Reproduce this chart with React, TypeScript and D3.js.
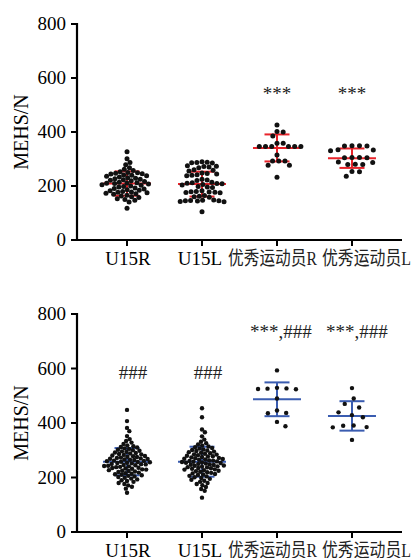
import * as d3 from "d3";

// categories and tick labels
const CATEGORIES = ["U15R", "U15L", "优秀运动员R", "优秀运动员L"];
const Y_TICKS = [0, 200, 400, 600, 800];

// panel 1 (red) – individual values
const topU15R = [327, 301, 287, 279, 268, 262, 257, 253, 250, 249, 247, 245, 244, 241, 240, 238, 236, 233, 231, 229, 227, 225, 223, 221, 219, 217, 214, 212, 211, 210, 209, 207, 205, 203, 200, 198, 196, 193, 191, 189, 186, 184, 182, 180, 178, 177, 175, 173, 171, 169, 166, 163, 160, 157, 153, 150, 147, 141, 118];
const topU15L = [290, 288, 287, 286, 285, 275, 273, 272, 270, 268, 260, 258, 256, 248, 246, 244, 242, 240, 238, 225, 222, 220, 214, 212, 210, 209, 208, 206, 204, 198, 196, 194, 182, 180, 179, 178, 177, 176, 175, 165, 162, 160, 158, 148, 147, 146, 145, 145, 144, 143, 142, 105];
const topEliteR = [426, 402, 400, 385, 358, 358, 346, 346, 346, 346, 346, 346, 315, 293, 293, 293, 277, 277, 232];
const topEliteL = [349, 349, 348, 348, 334, 333, 331, 306, 306, 305, 305, 289, 287, 281, 280, 280, 254, 253, 236];
const topMeans = [209, 207, 341, 303];
const topSD = [45, 46, 50, 36];
const topMarks = ["", "", "***", "***"];

// panel 2 (blue)
const botU15R = [448, 407, 382, 370, 352, 341, 334, 328, 323, 318, 315, 312, 310, 307, 305, 302, 300, 298, 296, 294, 292, 290, 288, 286, 285, 283, 281, 279, 278, 276, 275, 273, 272, 270, 269, 268, 266, 265, 264, 262, 261, 260, 258, 257, 256, 254, 253, 252, 250, 249, 248, 246, 245, 243, 242, 241, 239, 238, 236, 235, 233, 232, 230, 229, 227, 225, 224, 222, 220, 218, 216, 214, 212, 210, 208, 206, 204, 202, 199, 196, 193, 190, 187, 184, 180, 176, 171, 166, 159, 144];
const botU15L = [454, 421, 376, 366, 351, 339, 331, 326, 321, 317, 314, 311, 308, 306, 303, 301, 299, 297, 295, 293, 291, 289, 287, 285, 284, 282, 280, 278, 277, 275, 274, 272, 271, 269, 268, 266, 265, 263, 262, 261, 259, 258, 257, 255, 254, 253, 251, 250, 248, 247, 246, 244, 243, 241, 240, 238, 237, 235, 234, 232, 230, 229, 227, 225, 223, 221, 219, 217, 215, 213, 211, 209, 206, 204, 201, 198, 195, 192, 188, 184, 180, 176, 172, 165, 158, 151, 126];
const botEliteR = [593, 529, 527, 526, 525, 524, 490, 446, 437, 436, 404, 388];
const botEliteL = [528, 490, 470, 457, 439, 429, 421, 391, 390, 385, 384, 338];
const botMeans = [258, 258, 487, 426];
const botSD = [50, 55, 62, 54];
const botMarks = ["###", "###", "***,###", "***,###"];

const SERIF = "Liberation Serif, Times New Roman, DejaVu Serif, serif";
const CJK = "Noto Sans CJK SC, sans-serif";
const AXIS_LEFT = 77;
const AXIS_RIGHT = 402;

// simple beeswarm: each dot gets the smallest horizontal offset that doesn't collide
function swarm(ys: number[], d: number) {
    const order = d3.range(ys.length).sort((a, b) => ys[a] - ys[b]);
    const xs = new Array(ys.length).fill(0);
    const placed: number[] = [];
    for (const i of order) {
        const near = placed.filter((j) => Math.abs(ys[j] - ys[i]) < d);
        const cands = [0];
        near.forEach((j) => {
            const dx = Math.sqrt(d * d - (ys[j] - ys[i]) ** 2);
            cands.push(xs[j] + dx, xs[j] - dx);
        });
        cands.sort((a, b) => Math.abs(a) - Math.abs(b));
        const ok = cands.find((c) =>
            near.every((j) => (c - xs[j]) ** 2 + (ys[j] - ys[i]) ** 2 >= d * d - 0.01)
        );
        xs[i] = ok ?? 0;
        placed.push(i);
    }
    return xs;
}

type PanelProps = {
    groups: number[][];
    means: number[];
    sds: number[];
    marks: string[];
    marksAt: number[];
    marksDx: number[];
    spacing: number[];
    top: number;
    bottom: number;
    color: string;
    r: number;
};

function Panel({groups, means, sds, marks, marksAt, marksDx, spacing, top, bottom, color, r}: PanelProps) {
    const x = d3.scalePoint<string>().domain(CATEGORIES).range([AXIS_LEFT, AXIS_RIGHT]).padding(0.667);
    const y = d3.scaleLinear().domain([0, 800]).range([bottom, top]);
    // label shifts so the long chinese labels don't collide
    const labelDx = [1, -2, -4, 15];

    return (
        <g>
            {/* mean ± SD */}
            {CATEGORIES.map((c, i) => {
                const cx = x(c)!;
                return (
                    <g key={c} stroke={color} strokeWidth={2}>
                        <line x1={cx - 24} x2={cx + 24} y1={y(means[i])} y2={y(means[i])} />
                        <line x1={cx - 12.5} x2={cx + 12.5} y1={y(means[i] + sds[i])} y2={y(means[i] + sds[i])} />
                        <line x1={cx - 12.5} x2={cx + 12.5} y1={y(means[i] - sds[i])} y2={y(means[i] - sds[i])} />
                        <line x1={cx} x2={cx} y1={y(means[i] + sds[i])} y2={y(means[i] - sds[i])} />
                    </g>
                );
            })}
            {/* dots */}
            {groups.map((vals, gi) => {
                const ys = vals.map((v) => y(v));
                const xs = swarm(ys, spacing[gi]);
                const cx = x(CATEGORIES[gi])!;
                return vals.map((v, k) => (
                    <circle key={`${gi}-${k}`} cx={cx + xs[k]} cy={ys[k]} r={r} fill="#111" />
                ));
            })}
            {/* significance marks */}
            {marks.map((m, i) =>
                m ? (
                    <text key={i} x={x(CATEGORIES[i])! + marksDx[i]} y={y(marksAt[i])} textAnchor="middle"
                          fontSize={19} style={{fontFamily: SERIF}} fill="#222">
                        {m}
                    </text>
                ) : null
            )}
            {/* y axis */}
            <line x1={AXIS_LEFT} x2={AXIS_LEFT} y1={y(800) - 1} y2={y(0) + 1} stroke="#000" strokeWidth={2.2} />
            {Y_TICKS.map((t) => (
                <g key={t}>
                    <line x1={AXIS_LEFT - 6} x2={AXIS_LEFT} y1={y(t)} y2={y(t)} stroke="#000" strokeWidth={2} />
                    <text x={AXIS_LEFT - 11} y={y(t)} dy="0.34em" textAnchor="end" fontSize={19}
                          style={{fontFamily: SERIF}}>
                        {t}
                    </text>
                </g>
            ))}
            <text transform={`translate(21,${(y(0) + y(800)) / 2}) rotate(-90)`} textAnchor="middle"
                  dy="0.34em" fontSize={20} style={{fontFamily: SERIF}}>
                MEHS/N
            </text>
            {/* x axis */}
            <line x1={AXIS_LEFT - 1} x2={AXIS_RIGHT} y1={y(0)} y2={y(0)} stroke="#000" strokeWidth={2.2} />
            {CATEGORIES.map((c, i) => {
                const cx = x(c)! + labelDx[i];
                const ty = y(0) + 25;
                const isHan = i > 1;
                return (
                    <g key={c}>
                        <line x1={x(c)} x2={x(c)} y1={y(0)} y2={y(0) + 6} stroke="#000" strokeWidth={2} />
                        {isHan ? (
                            // squeezed like the original: chinese in the CJK face, trailing letter in serif
                            <text x={cx - 45} y={ty} fontSize={19} fill="#222"
                                  textLength={89} lengthAdjust="spacingAndGlyphs">
                                <tspan style={{fontFamily: CJK}}>{c.slice(0, -1)}</tspan>
                                <tspan style={{fontFamily: SERIF}}>{c.slice(-1)}</tspan>
                            </text>
                        ) : (
                            <text x={cx} y={ty} textAnchor="middle" fontSize={19} style={{fontFamily: SERIF}}>
                                {c}
                            </text>
                        )}
                    </g>
                );
            })}
        </g>
    );
}

export default function App() {
    return (
        <div style={{position: "absolute", left: 0, top: 0}}>
            <svg width={417} height={558} style={{display: "block", background: "#fff"}}>
                <Panel groups={[topU15R, topU15L, topEliteR, topEliteL]} means={topMeans} sds={topSD}
                       marks={topMarks} marksAt={[0, 0, 518, 518]} marksDx={[0, 0, 0, 0]}
                       spacing={[4.8, 5.2, 6.2, 7.5]}
                       top={24} bottom={240} color="#e8232a" r={2.5} />
                <Panel groups={[botU15R, botU15L, botEliteR, botEliteL]} means={botMeans} sds={botSD}
                       marks={botMarks} marksAt={[561, 561, 712, 712]} marksDx={[6, 6, 4, 5]}
                       spacing={[4.0, 4.0, 9.5, 10.5]}
                       top={314} bottom={532} color="#3a5cb0" r={2.2} />
            </svg>
        </div>
    );
}
